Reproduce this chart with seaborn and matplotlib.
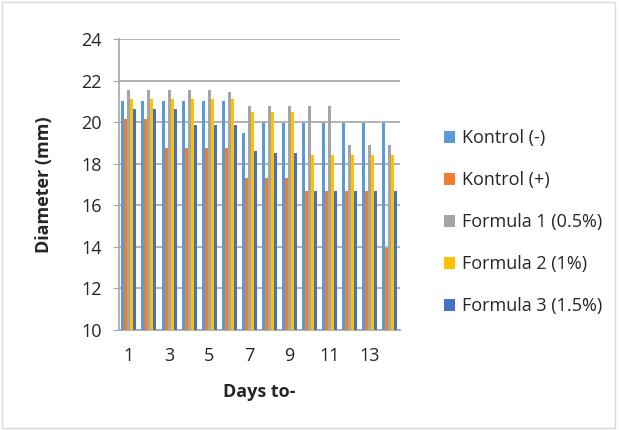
import pandas as pd
import numpy as np
import matplotlib.pyplot as plt
import seaborn as sns
from matplotlib.patches import Rectangle

# ---- data ----
days = list(range(1, 15))
kontrol_neg = [21.0, 21.0, 21.0, 21.0, 21.0, 21.0, 19.5, 19.95, 19.95, 19.95, 19.95, 19.95, 19.95, 19.95]
kontrol_pos = [20.17, 20.17, 18.75, 18.75, 18.75, 18.75, 17.3, 17.3, 17.3, 16.7, 16.7, 16.7, 16.7, 13.92]
formula_1 = [21.55, 21.55, 21.55, 21.55, 21.55, 21.45, 20.78, 20.78, 20.78, 20.78, 20.78, 18.89, 18.89, 18.89]
formula_2 = [21.13, 21.13, 21.13, 21.13, 21.13, 21.13, 20.5, 20.47, 20.47, 18.41, 18.41, 18.41, 18.41, 18.41]
formula_3 = [20.65, 20.65, 20.65, 19.85, 19.85, 19.85, 18.6, 18.5, 18.5, 16.7, 16.7, 16.7, 16.7, 16.7]

series_names = ["Kontrol (-)", "Kontrol (+)", "Formula 1 (0.5%)", "Formula 2 (1%)", "Formula 3 (1.5%)"]
series_values = [kontrol_neg, kontrol_pos, formula_1, formula_2, formula_3]
colors = ["#5B9BD5", "#ED7D31", "#A5A5A5", "#FFC000", "#4472C4"]

# long format table for seaborn
df = pd.DataFrame({
    "day": np.tile(days, len(series_names)),
    "group": np.repeat(series_names, len(days)),
    "diameter": np.concatenate(series_values),
})

sns.set_style("white")
plt.rcParams["font.family"] = ["Open Sans", "DejaVu Sans"]

fig = plt.figure(figsize=(6.19, 4.30), dpi=100)
ax = fig.add_axes([0.192, 0.233, 0.454, 0.676])

sns.barplot(
    data=df, x="day", y="diameter", hue="group",
    hue_order=series_names, palette=colors,
    width=0.75, saturation=1, ax=ax, errorbar=None,
    linewidth=0, zorder=3,
)
# bars start from 10
ax.set_ylim(10, 24)
ax.set_yticks(range(10, 25, 2))
ax.grid(axis="y", color="#A6A6A6", linewidth=1.2, zorder=0)
ax.set_xlim(-0.5, 13.5)

ax.set_xticks(range(0, 14, 2))
ax.set_xticklabels([str(d) for d in days[::2]], fontsize=13)
ax.tick_params(axis="y", labelsize=13, left=True, length=4.3, color="#A6A6A6", pad=8)
ax.tick_params(axis="x", bottom=False, pad=9)

for s in ["top", "right"]:
    ax.spines[s].set_visible(False)
for s in ["left", "bottom"]:
    ax.spines[s].set_color("#A6A6A6")
    ax.spines[s].set_linewidth(1.2)

ax.set_xlabel("Days to-", fontsize=13, weight="bold", labelpad=13)
ax.set_ylabel("Diameter (mm)", fontsize=13, weight="bold", labelpad=20)

ax.legend(
    loc="center left", bbox_to_anchor=(1.10, 0.37), frameon=False,
    fontsize=13, handlelength=0.6, handleheight=0.6, handletextpad=0.4,
    labelspacing=1.33,
)

# light outer frame around the chart
fig.patches.append(Rectangle((0.004, 0.005), 0.99, 0.99, transform=fig.transFigure,
                             fill=False, edgecolor="#D9D9D9", linewidth=1))

plt.savefig("out.png", dpi=100)
plt.close()
